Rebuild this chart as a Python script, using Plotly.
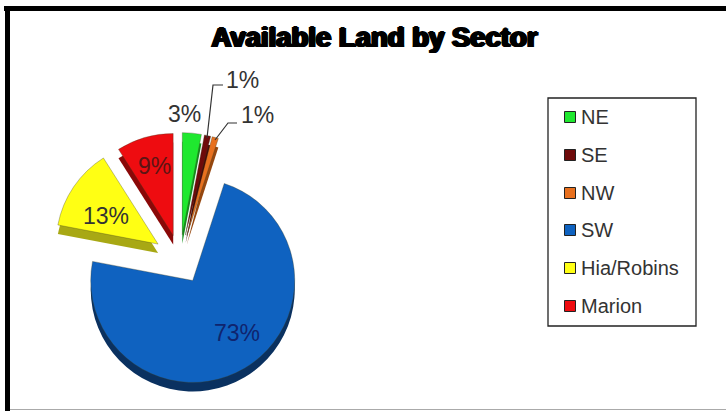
import plotly.graph_objects as go

categories = ["NE", "SE", "NW", "SW", "Hia/Robins", "Marion"]
shares = [3, 1, 1, 73, 13, 9]
pulls = [0.24, 0.24, 0.24, 0.245, 0.26, 0.24]
face_colors = ["#1fe82f", "#6e0a0a", "#e8701e", "#0f62c0", "#ffff14", "#ee0c10"]
side_colors = ["#12901c", "#450606", "#96470f", "#0a3160", "#a8a814", "#8a0808"]
label_colors = ["#333333", "#333333", "#333333", "#10246e", "#333333", "#5c1414"]
label_spots = [(184, 114), (242, 80), (257, 115), (237, 333), (106, 216), (154, 166)]
legend_rows = [117, 155, 193, 230, 268, 306]

W, H = 726, 411
RADIUS = 102
CENTER = (180, 259)
DEPTH = 9


def fx(x):
    return x / W


def fy(y):
    return 1 - y / H


def pie_domain(cy):
    half = RADIUS * (1 + max(pulls))
    return dict(x=[fx(CENTER[0] - half), fx(CENTER[0] + half)],
                y=[fy(cy + half), fy(cy - half)])


def pie_layer(colors, cy, edge):
    return go.Pie(
        labels=categories, values=shares, sort=False, direction="clockwise",
        rotation=0, pull=pulls, textinfo="none", hoverinfo="label+percent",
        marker=dict(colors=colors, line=dict(color=edge, width=0.6)),
        domain=pie_domain(cy), showlegend=False,
    )


fig = go.Figure([
    pie_layer(side_colors, CENTER[1] + DEPTH, "rgba(0,0,0,0)"),
    pie_layer(face_colors, CENTER[1], "rgba(60,60,30,0.55)"),
])

shapes = []
annotations = []


def rect(x0, y0, x1, y1, **kw):
    shapes.append(dict(type="rect", xref="paper", yref="paper",
                       x0=fx(x0), x1=fx(x1), y0=fy(y1), y1=fy(y0), **kw))


# Frame around the chart area
rect(4, 6, W + 4, 11, fillcolor="#000000", line_width=0)
rect(5, 6, 10, H + 2, fillcolor="#000000", line_width=0)
rect(10, 409, W + 4, 410, fillcolor="#aaaaaa", line_width=0)

# Leader lines for the two narrow slices
for pts in ([(207, 138), (213, 85), (223, 85)], [(215, 140), (228, 123), (237, 123)]):
    path = "M " + " L ".join(f"{fx(x):.5f},{fy(y):.5f}" for x, y in pts)
    shapes.append(dict(type="path", xref="paper", yref="paper", path=path,
                       line=dict(color="#333333", width=1.2)))

# Percentage labels
for value, (x, y), color in zip(shares, label_spots, label_colors):
    annotations.append(dict(x=fx(x), y=fy(y), xref="paper", yref="paper",
                            xanchor="center", yanchor="middle",
                            text=f"{value}%", showarrow=False,
                            font=dict(family="Liberation Sans", size=23, color=color)))

# Legend box with one swatch and name per category
rect(548, 98, 696, 326, fillcolor="#ffffff", line=dict(color="#222222", width=1.3))
for name, color, y in zip(categories, face_colors, legend_rows):
    rect(564.5, y - 5.5, 575.5, y + 5.5, fillcolor=color, line=dict(color="#222222", width=1))
    annotations.append(dict(x=fx(579), y=fy(y), xref="paper", yref="paper",
                            xanchor="left", yanchor="middle",
                            text=name, showarrow=False,
                            font=dict(family="Liberation Sans", size=20, color="#333333")))

fig.update_layout(
    width=W, height=H, margin=dict(l=0, r=0, t=0, b=0),
    paper_bgcolor="#ffffff",
    title=dict(
        text="<b>Available Land by Sector</b>", x=fx(374.5), xanchor="center",
        y=fy(37), yanchor="middle",
        font=dict(family="Liberation Sans", size=27.5, color="#000000",
                  shadow="1px 0 0 #000, -1px 0 0 #000, 0 0.7px 0 #000, 0 -0.7px 0 #000, 1.4px 0 0 #000, -1.4px 0 0 #000"),
    ),
    shapes=shapes, annotations=annotations,
)

fig.write_html("out.html")
